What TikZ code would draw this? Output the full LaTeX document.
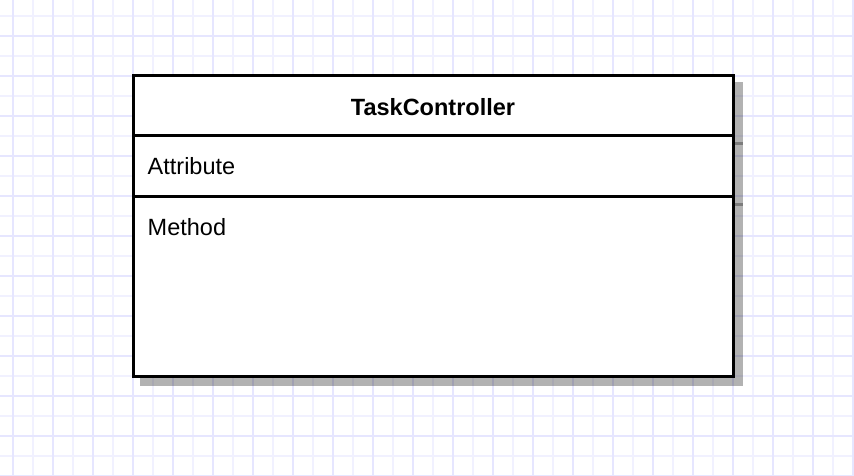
\documentclass[tikz,border=0pt]{standalone}
\usepackage{fontspec}
\setmainfont{Liberation Sans}
\usepackage{tikz}
\usetikzlibrary{calc}
\definecolor{gridminor}{RGB}{241,241,255}
\definecolor{gridmajor}{RGB}{230,230,255}
\tikzset{
    umltext/.style={inner sep=0pt, font=\fontsize{23.5}{28}\selectfont},
    umlline/.style={line width=3pt, black},
    umlshadow/.style={black, opacity=0.3},
}

\begin{document}
\begin{tikzpicture}[
                x=1pt, y=-1pt, % 以像素为单位
            ]
            % 背景与边界
            \useasboundingbox (0,0) rectangle (854,476);
            \fill[white] (0,0) rectangle (854,476);
            % 网格
            \foreach \gx in {13,33,...,853} {
                \draw[gridminor, line width=1.6pt] (\gx,0) -- (\gx,476);
            }
            \foreach \gy in {16,36,...,476} {
                \draw[gridminor, line width=1.6pt] (0,\gy) -- (854,\gy);
            }
            \foreach \gx in {13,53,...,853} {
                \draw[gridmajor, line width=1.6pt] (\gx,0) -- (\gx,476);
            }
            \foreach \gy in {36,76,...,476} {
                \draw[gridmajor, line width=1.6pt] (0,\gy) -- (854,\gy);
            }
            % 类的角点
            \coordinate (TL) at (133,76);
            \coordinate (BR) at (733,376);
            \coordinate (HL) at (133,136); % 标题分隔
            \coordinate (HR) at (733,136);
            \coordinate (AL) at (133,196); % 属性分隔
            \coordinate (AR) at (733,196);
            % 阴影
            \fill[umlshadow] ($(TL)+(6.5,6.5)$) rectangle ($(BR)+(9.5,9.5)$);
            \draw[umlshadow, line width=3pt] ($(HL)+(8,8)$) -- ($(HR)+(9.5,8)$);
            \draw[umlshadow, line width=3pt] ($(AL)+(8,8)$) -- ($(AR)+(9.5,8)$);
            % 类框
            \fill[white] (TL) rectangle (BR);
            \draw[umlline] (TL) rectangle (BR);
            \draw[umlline] (HL) -- (HR);
            \draw[umlline] (AL) -- (AR);
            % 文字
            \node[umltext, anchor=base, font=\fontsize{23.5}{28}\selectfont\bfseries] (title) at (433,116) {TaskController};
            \node[umltext, anchor=base west] (attr) at (147.5,175) {Attribute};
            \node[umltext, anchor=base west] (meth) at (147.5,235.5) {Method};
            \end{tikzpicture}
\end{document}
